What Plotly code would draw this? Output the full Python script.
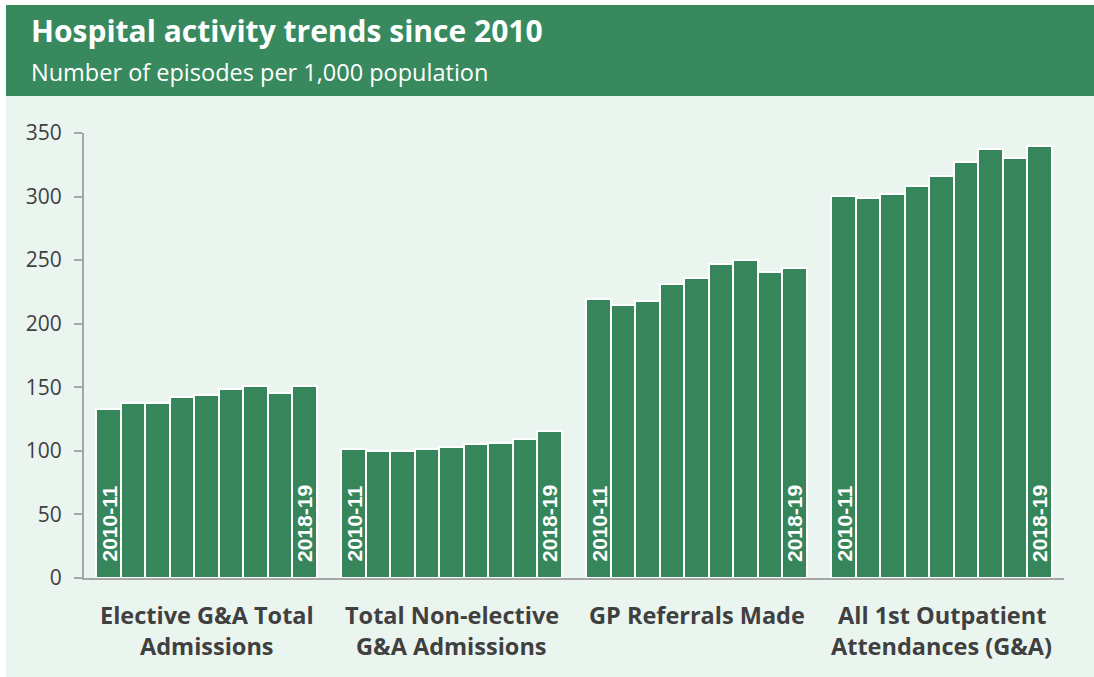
import plotly.graph_objects as go

# Activity measures (two-line labels split on <br>)
categories = [
    "Elective G&A Total<br>Admissions",
    "Total Non-elective<br>G&A Admissions",
    "GP Referrals Made",
    "All 1st Outpatient<br>Attendances (G&A)",
]

periods = ["2010-11", "2011-12", "2012-13", "2013-14", "2014-15",
           "2015-16", "2016-17", "2017-18", "2018-19"]

# Episodes per 1,000 population, one list per measure
elective = [133.2, 137.9, 137.9, 142.6, 144.2, 148.7, 150.8, 145.8, 150.8]
non_elective = [101.8, 100.2, 100.2, 101.8, 103.4, 105.2, 106.5, 109.7, 115.9]
gp_referrals = [219.1, 214.4, 217.5, 231.6, 236.3, 247.3, 250.2, 241.0, 244.2]
outpatient = [300.4, 298.8, 302.3, 308.2, 316.1, 327.1, 337.8, 330.2, 339.6]

series = [elective, non_elective, gp_referrals, outpatient]

y_ticks = [0, 50, 100, 150, 200, 250, 300, 350]

GREEN = "#36855b"
HEADER = "#388a5e"
MINT = "#ebf5f0"
GREY_TEXT = "#404040"
AXIS = "#a6a6a6"

W, H = 1094, 677
L, R, T, B = 84, 30, 133, 99
PW, PH = W - L - R, H - T - B


def px_x(px):
    return (px - L) / PW


def px_y(py):
    return (H - B - py) / PH


slot = len(periods) + 1  # one empty slot between groups

fig = go.Figure()
annotations = []
for g, values in enumerate(series):
    xs = [g * slot + i for i in range(len(values))]
    fig.add_trace(go.Bar(
        x=xs,
        y=values,
        width=1.0,
        marker=dict(color=GREEN, line=dict(color="white", width=2)),
        hovertext=periods,
        showlegend=False,
    ))
    # first and last period written up the inside of their bars
    for i in (0, len(periods) - 1):
        annotations.append(dict(
            text=f"<b>{periods[i]}</b>", x=xs[i], y=0, xref="x", yref="y",
            textangle=-90, xanchor="center", yanchor="bottom", yshift=14,
            showarrow=False,
            font=dict(family="Liberation Sans", size=21, color="white"),
        ))

shapes = [
    # mint panel behind the chart
    dict(type="rect", xref="paper", yref="paper", layer="below",
         x0=px_x(6), x1=px_x(W), y0=px_y(H), y1=px_y(96),
         fillcolor=MINT, line=dict(width=0)),
    # green header band
    dict(type="rect", xref="paper", yref="paper", layer="below",
         x0=px_x(6), x1=px_x(W), y0=px_y(96), y1=px_y(5),
         fillcolor=HEADER, line=dict(width=0)),
]

annotations += [
    dict(text="<b>Hospital activity trends since 2010</b>", xref="paper", yref="paper",
         x=px_x(29), y=px_y(31), xanchor="left", yanchor="middle", showarrow=False,
         font=dict(family="Open Sans", size=30, color="white")),
    dict(text="Number of episodes per 1,000 population", xref="paper", yref="paper",
         x=px_x(29), y=px_y(72), xanchor="left", yanchor="middle", showarrow=False,
         font=dict(family="Open Sans", size=23.5, color="white")),
]

line_y = [615, 646]
for g, cat in enumerate(categories):
    centre = g * slot + (len(periods) - 1) / 2
    for k, line in enumerate(cat.split("<br>")):
        annotations.append(dict(
            text=line, xref="x", yref="paper", x=centre, y=px_y(line_y[k]),
            xanchor="center", yanchor="middle", showarrow=False,
            font=dict(family="Open Sans", size=23.5, color=GREY_TEXT, weight="bold"),
        ))

fig.update_layout(
    width=W, height=H,
    margin=dict(l=L, r=R, t=T, b=B, pad=0),
    paper_bgcolor="white",
    plot_bgcolor="rgba(0,0,0,0)",
    bargap=0,
    shapes=shapes,
    annotations=annotations,
    xaxis=dict(
        range=[-1, len(series) * slot - 1],
        showgrid=False, zeroline=False, showticklabels=False,
        showline=True, linecolor=AXIS, linewidth=2, ticks="",
    ),
    yaxis=dict(
        range=[0, 350], tickvals=y_ticks,
        showgrid=False, zeroline=False,
        showline=True, linecolor=AXIS, linewidth=2,
        ticks="outside", ticklen=8, tickcolor=AXIS, tickwidth=2,
        ticklabelstandoff=8,
        tickfont=dict(family="Open Sans", size=21, color=GREY_TEXT),
    ),
)

fig.write_html("out.html")
